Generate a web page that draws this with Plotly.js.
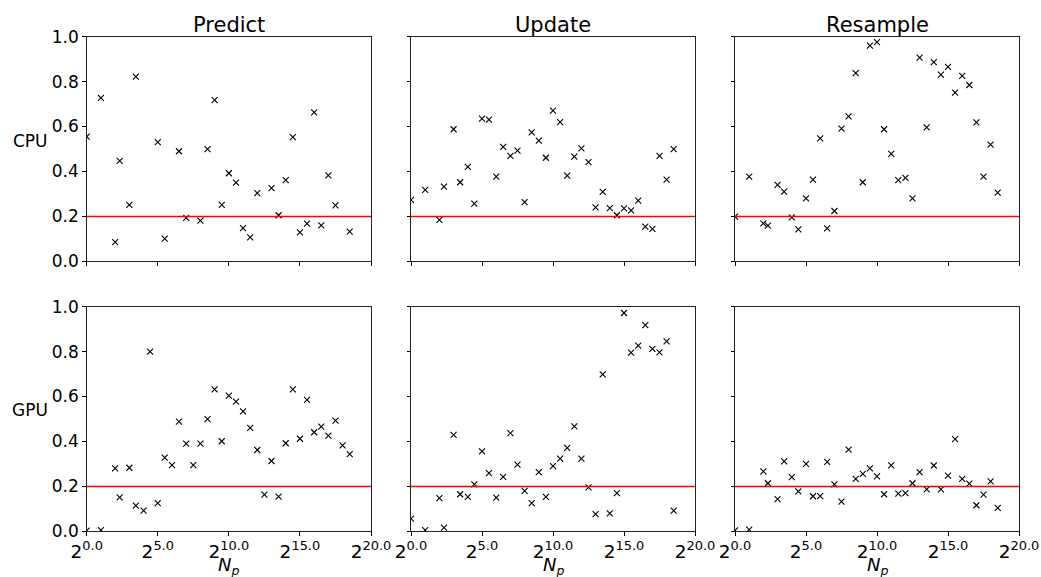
<!DOCTYPE html>
<html>
<head>
<meta charset="utf-8">
<script src="https://cdn.plot.ly/plotly-3.0.1.min.js"></script>
<style>html,body{margin:0;padding:0;background:#fff}#chart{width:1041px;height:577px}</style>
</head>
<body>
<div id="chart"></div>
<script>
// log2 of particle count N_p
const logNp = [0,1,2,2.32,3,3.46,4,4.46,5,5.49,6,6.49,7,7.5,8,8.5,9,9.5,10,10.5,11,11.5,12,12.5,13,13.5,14,14.5,15,15.5,16,16.5,17,17.5,18,18.5];

const cpuPredict = [0.555,0.728,0.085,0.447,0.251,0.822,null,null,0.531,0.101,null,0.490,0.193,null,0.181,0.499,0.718,0.251,0.392,0.350,0.148,0.107,0.304,null,0.326,0.205,0.361,0.553,0.129,0.168,0.663,0.160,0.383,0.249,null,0.132];
const cpuUpdate = [0.273,0.318,0.184,0.332,0.588,0.352,0.420,0.257,0.635,0.631,0.377,0.509,0.469,0.493,0.263,0.574,0.537,0.461,0.671,0.620,0.381,0.466,0.503,0.442,0.240,0.309,0.237,0.205,0.236,0.227,0.270,0.154,0.144,0.469,0.364,0.499];
const cpuResample = [0.199,0.377,0.169,0.159,0.340,0.310,0.196,0.142,0.280,0.364,0.547,0.147,0.224,0.591,0.645,0.838,0.352,0.960,0.976,0.588,0.478,0.361,0.371,0.280,0.907,0.596,0.887,0.831,0.866,0.751,0.826,0.785,0.619,0.377,0.519,0.306];
const gpuPredict = [0.003,0.005,0.280,0.151,0.283,0.114,0.092,0.800,0.125,0.328,0.295,0.488,0.390,0.295,0.390,0.499,0.632,0.401,0.604,0.577,0.534,0.460,0.362,0.163,0.313,0.154,0.392,0.632,0.412,0.585,0.441,0.466,0.426,0.493,0.383,0.344];
const gpuUpdate = [0.056,0.005,0.148,0.016,0.429,0.165,0.153,0.209,0.356,0.259,0.150,0.242,0.437,0.297,0.180,0.125,0.263,0.153,0.290,0.324,0.371,0.467,0.324,0.196,0.076,0.699,0.080,0.170,0.972,0.796,0.827,0.918,0.812,0.797,0.846,0.092];
const gpuResample = [0.004,0.007,0.267,0.214,0.143,0.311,0.241,0.178,0.300,0.156,0.157,0.309,0.209,0.132,0.364,0.233,0.256,0.280,0.245,0.165,0.294,0.168,0.170,0.214,0.263,0.187,0.293,0.187,0.248,0.410,0.233,0.212,0.116,0.163,0.222,0.104];

const stageTitles = ['Predict','Update','Resample'];
const rowLabels = ['CPU','GPU'];
const threshold = 0.2;
const xTickVals = [0,5,10,15,20];
const xTickText = ['2<sup>0.0</sup>','2<sup>5.0</sup>','2<sup>10.0</sup>','2<sup>15.0</sup>','2<sup>20.0</sup>'];

const series = [cpuPredict, cpuUpdate, cpuResample, gpuPredict, gpuUpdate, gpuResample];

const W = 1041, H = 577;
const colPx = [[86.7,371],[411,695],[735,1019]];
const rowPx = [[36.7,261.3],[306.7,531.3]];
const font = 'DejaVu Sans, sans-serif';

const data = [];
const layout = {
  width: W, height: H,
  margin: {l:0,r:0,t:0,b:0},
  paper_bgcolor:'#fff', plot_bgcolor:'#fff',
  showlegend:false,
  font:{family:font, color:'#000', size:17},
  shapes:[], annotations:[]
};

for (let r=0;r<2;r++){
  for (let c=0;c<3;c++){
    const i = r*3+c+1;
    const xa = 'xaxis'+(i===1?'':i), ya = 'yaxis'+(i===1?'':i);
    const xr = 'x'+(i===1?'':i), yr = 'y'+(i===1?'':i);
    data.push({
      x: logNp, y: series[i-1], xaxis: xr, yaxis: yr,
      type:'scatter', mode:'markers', cliponaxis:true,
      marker:{symbol:'x-thin', size:6, color:'#000', line:{width:1.1, color:'#000'}},
      hoverinfo:'skip'
    });
    layout[xa] = {
      domain:[colPx[c][0]/W, colPx[c][1]/W], anchor: yr,
      range:[0,20], tickvals:xTickVals, ticktext:xTickText,
      showticklabels: r===1, ticks:'outside', ticklen:3.5, tickwidth:1, tickcolor:'#000',
      showline:true, mirror:true, linecolor:'#222', linewidth:1,
      showgrid:false, zeroline:false, fixedrange:true,
      tickfont:{family:font, size:18.5, color:'#000'}
    };
    layout[ya] = {
      domain:[1-rowPx[r][1]/H, 1-rowPx[r][0]/H], anchor: xr,
      range:[0,1], tickvals:[0,0.2,0.4,0.6,0.8,1.0], tickformat:'.1f',
      showticklabels: c===0, ticks:'outside', ticklen:3.5, tickwidth:1, tickcolor:'#000',
      showline:true, mirror:true, linecolor:'#222', linewidth:1,
      showgrid:false, zeroline:false, fixedrange:true,
      tickfont:{family:font, size:17, color:'#000'}
    };
    layout.shapes.push({
      type:'line', xref: xr+' domain', yref: yr, x0:0, x1:1, y0:threshold, y1:threshold,
      line:{color:'#ff0000', width:1.5}
    });
    if (r===0){
      layout.annotations.push({
        text: stageTitles[c], xref: xr+' domain', yref:'paper', x:0.5, y:1-25/H,
        xanchor:'center', yanchor:'middle', showarrow:false,
        font:{family:font, size:21, color:'#000'}
      });
    } else {
      layout.annotations.push({
        text: '<i>N</i><sub><i>p</i></sub>', xref: xr+' domain', yref:'paper', x:0.5, y:1-566/H,
        xanchor:'center', yanchor:'middle', showarrow:false,
        font:{family:font, size:18, color:'#000'}
      });
    }
  }
  layout.annotations.push({
    text: rowLabels[r], xref:'paper', yref:'paper', x:30/W, y:1-(r===0?141:410)/H,
    xanchor:'center', yanchor:'middle', showarrow:false,
    font:{family:font, size:17, color:'#000'}
  });
}

Plotly.newPlot('chart', data, layout, {displayModeBar:false, staticPlot:true});
</script>
</body>
</html>
